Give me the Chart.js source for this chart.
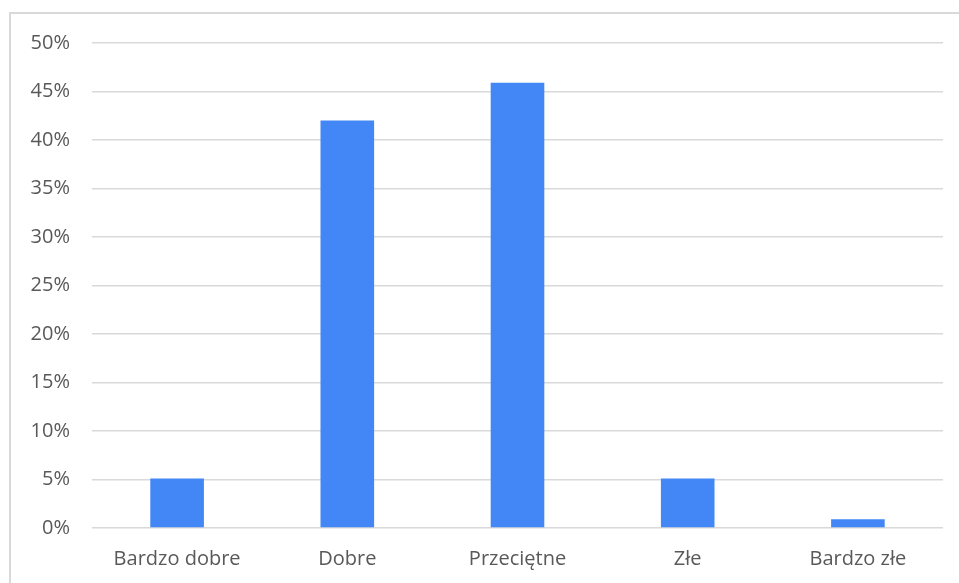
<!DOCTYPE html>
<html lang="pl">

<head>
    <meta charset="UTF-8">
    <title>Oceny</title>
    <script src="https://cdn.jsdelivr.net/npm/chart.js"></script>
    <style>
        html, body {
            margin: 0;
            padding: 0;
            background: #ffffff;
            overflow: hidden;
        }

        .wrap {
            position: relative;
            width: 959px;
            height: 583px;
        }

        /* light frame around the chart, open on right and bottom like the source */
        .frame {
            position: absolute;
            left: 9px;
            top: 12px;
            right: 0;
            bottom: -5px;
            border-top: 2px solid #d9d9d9;
            border-left: 2px solid #d9d9d9;
            pointer-events: none;
        }
    </style>
</head>

<body>
    <div class="wrap">
        <canvas id="chart" width="959" height="583"></canvas>
        <div class="frame"></div>
    </div>

    <script>
        // data
        const categories = ['Bardzo dobre', 'Dobre', 'Przeciętne', 'Złe', 'Bardzo złe'];
        const shares = [5.1, 42.0, 45.9, 5.1, 0.9];
        const yTicks = [0, 5, 10, 15, 20, 25, 30, 35, 40, 45, 50];

        const textFont = { family: "'Open Sans', 'Noto Sans', sans-serif", size: 20 };

        const ctx = document.getElementById('chart').getContext('2d');
        new Chart(ctx, {
            type: 'bar',
            data: {
                labels: categories,
                datasets: [{
                    data: shares,
                    backgroundColor: '#4287f5',
                    borderWidth: 0,
                    barPercentage: 0.315,
                    categoryPercentage: 1
                }]
            },
            options: {
                responsive: false,
                animation: false,
                layout: { padding: { top: 43, right: 16, left: 0, bottom: 0 } },
                plugins: {
                    legend: { display: false },
                    tooltip: { enabled: false }
                },
                scales: {
                    x: {
                        grid: { display: false },
                        border: { display: false },
                        ticks: { color: '#595959', font: textFont, padding: 11, maxRotation: 0 },
                        afterFit: s => { s.height = 55; }
                    },
                    y: {
                        min: 0,
                        max: 50,
                        afterBuildTicks: s => { s.ticks = yTicks.map(v => ({ value: v })); },
                        grid: { color: '#d9d9d9', lineWidth: 1.5, drawTicks: false },
                        border: { display: false },
                        ticks: {
                            color: '#595959',
                            font: textFont,
                            padding: 22,
                            callback: v => v + '%'
                        },
                        afterFit: s => { s.width = 92; }
                    }
                }
            }
        });
    </script>
</body>

</html>
